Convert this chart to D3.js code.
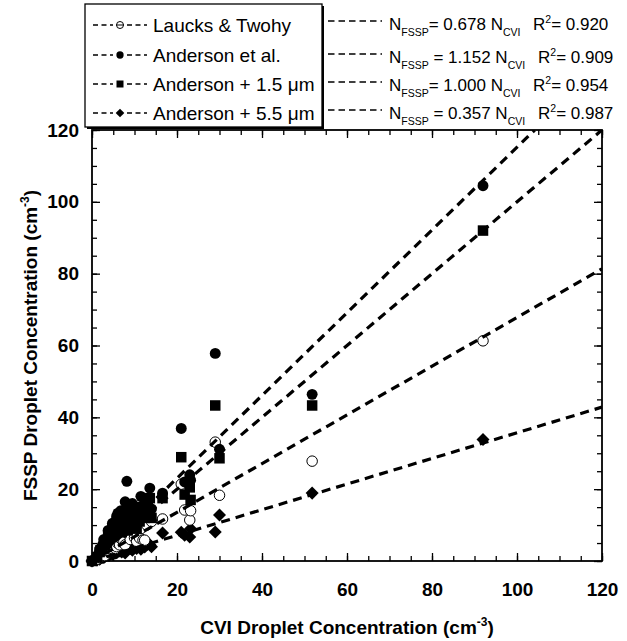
<!DOCTYPE html>
<html>
<head>
<meta charset="utf-8">
<script src="https://cdn.jsdelivr.net/npm/d3@7"></script>
<style>
  html, body { margin: 0; padding: 0; background: #fff; }
  svg { display: block; font-family: "Liberation Sans", Arial, Helvetica, sans-serif; }
</style>
</head>
<body>
<svg id="chart" width="627" height="641"></svg>
<script>
// ---------- data ----------
const cvi      = [0, 1.2, 1.8, 2.0, 2.5, 2.8, 3.0, 3.5, 3.8, 4.0, 4.2, 4.8, 5.0, 5.5, 5.8, 6.0, 6.1, 6.5, 6.8, 7.0, 7.5, 7.8, 8.2, 8.4, 9.0, 9.5, 10.0, 10.5, 11.2, 11.5, 12.0, 12.4, 12.9, 13.6, 14.0, 16.6, 21.0, 21.8, 23.0, 23.2, 29.0, 30.0, 51.8, 92.0];
const laucks   = [0, 0.5, 1.0, 1.5, 2.0, 2.5, 1.5, 3.0, 3.0, 2.5, 3.5, 5.0, 4.0, 3.5, 4.0, 5.0, 6.4, 4.5, 7.0, 6.0, 5.5, 4.5, 7.8, 7.8, 6.0, 8.5, 6.5, 5.5, 6.4, 9.0, 5.8, 5.8, 10.0, 12.0, 11.0, 11.7, 21.4, 14.2, 11.4, 14.0, 33.1, 18.3, 27.8, 61.3];
const anderson = [0, 1.5, 3.0, 3.5, 4.5, 6.0, 5.5, 6.0, 8.5, 7.0, 8.0, 10.5, 9.0, 10.0, 12.5, 11.0, 13.3, 12.0, 14.0, 9.5, 11.5, 16.5, 22.2, 10.0, 12.0, 16.0, 14.0, 11.0, 13.0, 18.0, 15.5, 14.5, 17.0, 20.3, 14.5, 18.9, 36.9, 22.0, 24.0, 22.5, 57.8, 31.1, 46.4, 104.5];
const and15    = [0, 1.0, 2.5, 3.0, 3.5, 5.0, 4.5, 5.0, 7.0, 6.0, 6.5, 9.0, 7.5, 8.5, 11.0, 9.5, 11.0, 10.0, 12.0, 8.0, 9.5, 13.5, 15.3, 8.5, 10.0, 13.5, 12.0, 9.0, 11.0, 15.0, 13.0, 12.0, 14.2, 17.5, 12.0, 17.5, 28.9, 18.5, 20.5, 17.0, 43.3, 28.6, 43.3, 92.0];
const and55    = [0, 0.3, 0.5, 0.8, 1.0, 1.0, 1.2, 1.5, 1.8, 1.5, 2.0, 1.8, 2.0, 2.2, 2.3, 2.5, 3.0, 2.8, 2.8, 2.5, 3.0, 2.2, 4.0, 3.5, 3.5, 3.0, 4.0, 3.5, 3.9, 3.3, 4.2, 3.9, 4.5, 4.5, 4.0, 7.8, 8.0, 7.2, 6.7, 9.0, 8.1, 12.8, 18.9, 33.8];

const seriesNames = ["Laucks & Twohy", "Anderson et al.", "Anderson + 1.5 \u03BCm", "Anderson + 5.5 \u03BCm"];
const seriesSymbols = ["openCircle", "circle", "square", "diamond"];
const slopes = [0.678, 1.152, 1.000, 0.357];
const slopeLabels = ["0.678", "1.152", "1.000", "0.357"];
const r2Labels = ["0.920", "0.909", "0.954", "0.987"];
const eqSpaced = [false, true, false, true];
const majorTicks = [0, 20, 40, 60, 80, 100, 120];
const minorTicks = d3.range(0, 121, 5);

// ---------- layout ----------
const svg = d3.select("#chart");
const X0 = 92, X1 = 602, Y0 = 561, Y1 = 130;
const x = d3.scaleLinear().domain([0, 120]).range([X0, X1]);
const y = d3.scaleLinear().domain([0, 120]).range([Y0, Y1]);

svg.append("defs").append("clipPath").attr("id", "plotclip")
  .append("rect").attr("x", X0).attr("y", Y1).attr("width", X1 - X0).attr("height", Y0 - Y1);

// ---------- axes (ticks inward on all sides) ----------
function addAxis(axisFn, transform, ticks, size) {
  const g = svg.append("g").attr("transform", transform)
    .call(axisFn.tickValues(ticks).tickSizeInner(size).tickSizeOuter(0).tickFormat(""));
  g.select(".domain").remove();
  g.selectAll("line").attr("stroke", "#000").attr("stroke-width", 1.3);
  return g;
}
addAxis(d3.axisBottom(x), `translate(0,${Y0})`, minorTicks, -5);
addAxis(d3.axisBottom(x), `translate(0,${Y0})`, majorTicks, -8);
addAxis(d3.axisTop(x), `translate(0,${Y1})`, minorTicks, -5);
addAxis(d3.axisTop(x), `translate(0,${Y1})`, majorTicks, -8);
addAxis(d3.axisLeft(y), `translate(${X0},0)`, minorTicks, -5);
addAxis(d3.axisLeft(y), `translate(${X0},0)`, majorTicks, -8);
addAxis(d3.axisRight(y), `translate(${X1},0)`, minorTicks, -5);
addAxis(d3.axisRight(y), `translate(${X1},0)`, majorTicks, -8);

const labX = svg.append("g").attr("transform", `translate(0,${Y0})`)
  .call(d3.axisBottom(x).tickValues(majorTicks).tickSize(0).tickPadding(22));
labX.select(".domain").remove();
labX.selectAll("text").attr("font-size", 19).attr("font-weight", "bold").attr("fill", "#000")
  .attr("font-family", "'Liberation Sans', Arial, sans-serif");
const labY = svg.append("g").attr("transform", `translate(${X0},0)`)
  .call(d3.axisLeft(y).tickValues(majorTicks).tickSize(0).tickPadding(13));
labY.select(".domain").remove();
labY.selectAll("text").attr("font-size", 19).attr("font-weight", "bold").attr("fill", "#000")
  .attr("font-family", "'Liberation Sans', Arial, sans-serif");

svg.append("rect").attr("x", X0).attr("y", Y1).attr("width", X1 - X0).attr("height", Y0 - Y1)
  .attr("fill", "none").attr("stroke", "#000").attr("stroke-width", 1.8);

// ---------- symbols ----------
function drawSymbol(sel, type, cx, cy, s) {
  if (type === "openCircle") {
    sel.append("circle").attr("cx", cx).attr("cy", cy).attr("r", s * 0.5)
      .attr("fill", "#fff").attr("stroke", "#000").attr("stroke-width", 1);
  } else if (type === "circle") {
    sel.append("circle").attr("cx", cx).attr("cy", cy).attr("r", s * 0.52).attr("fill", "#000");
  } else if (type === "square") {
    sel.append("rect").attr("x", cx - s / 2).attr("y", cy - s / 2).attr("width", s).attr("height", s).attr("fill", "#000");
  } else if (type === "diamond") {
    const h = s * 0.62;
    sel.append("path").attr("d", `M${cx},${cy - h}L${cx + h},${cy}L${cx},${cy + h}L${cx - h},${cy}Z`).attr("fill", "#000");
  }
}

const allSeries = [laucks, anderson, and15, and55];
const pointsG = svg.append("g");
// draw order: diamonds, open circles, squares, filled circles
[3, 0, 2, 1].forEach(si => {
  const g = pointsG.append("g");
  cvi.forEach((cx, i) => drawSymbol(g, seriesSymbols[si], x(cx), y(allSeries[si][i]), 10.5));
});

// fit lines
const plotG = svg.append("g").attr("clip-path", "url(#plotclip)");
const lineGen = d3.line().x(d => x(d[0])).y(d => y(d[1]));
slopes.forEach(m => {
  const xEnd = Math.min(120, 120 / m);
  plotG.append("path").attr("d", lineGen([[0, 0], [xEnd, m * xEnd]]))
    .attr("fill", "none").attr("stroke", "#000").attr("stroke-width", 3.2)
    .attr("stroke-dasharray", "9,6");
});

// ---------- legend ----------
const lg = svg.append("g");
const BX0 = 85, BY0 = 4, BX1 = 322, BY1 = 127;
lg.append("rect").attr("x", BX0 + 2).attr("y", BY0 + 2).attr("width", BX1 - BX0).attr("height", BY1 - BY0).attr("fill", "#000");
lg.append("rect").attr("x", BX0).attr("y", BY0).attr("width", BX1 - BX0).attr("height", BY1 - BY0)
  .attr("fill", "#fff").attr("stroke", "#000").attr("stroke-width", 1.3);

const rowBase = [32, 62, 91, 120];
seriesNames.forEach((name, i) => {
  const cy = rowBase[i] - 7;
  lg.append("line").attr("x1", 93).attr("x2", 147).attr("y1", cy).attr("y2", cy)
    .attr("stroke", "#000").attr("stroke-width", 1.6).attr("stroke-dasharray", "5,3.5");
  lg.append("rect").attr("x", 113).attr("y", cy - 5).attr("width", 14).attr("height", 10).attr("fill", "#fff");
  drawSymbol(lg, seriesSymbols[i], 120, cy, 7);
  if (seriesSymbols[i] === "openCircle") {
    lg.append("line").attr("x1", 116).attr("x2", 124).attr("y1", cy).attr("y2", cy).attr("stroke", "#000").attr("stroke-width", 1);
  }
  lg.append("text").attr("x", 153).attr("y", rowBase[i]).attr("font-size", 19).attr("fill", "#000").text(name);
});

const eqBase = [30, 63, 91, 119];
slopeLabels.forEach((s, i) => {
  const b = eqBase[i];
  lg.append("line").attr("x1", 328).attr("x2", 382).attr("y1", b - 9).attr("y2", b - 9)
    .attr("stroke", "#000").attr("stroke-width", 1.6).attr("stroke-dasharray", "6.5,4");
  const t = lg.append("text").attr("x", 389).attr("y", b).attr("font-size", 17).attr("fill", "#000");
  t.append("tspan").text("N");
  t.append("tspan").attr("font-size", 10.5).attr("dy", 6).text("FSSP");
  t.append("tspan").attr("dy", -6).text((eqSpaced[i] ? " = " : "= ") + s + " N");
  t.append("tspan").attr("font-size", 10.5).attr("dy", 6).text("CVI");
  const r = lg.append("text").attr("x", eqSpaced[i] ? 538 : 533).attr("y", b).attr("font-size", 17).attr("fill", "#000");
  r.append("tspan").text("R");
  r.append("tspan").attr("font-size", 10.5).attr("dy", -7).text("2");
  r.append("tspan").attr("dy", 7).text("= " + r2Labels[i]);
});

// ---------- axis titles ----------
const xt = svg.append("text").attr("x", (X0 + X1) / 2).attr("y", 634).attr("text-anchor", "middle")
  .attr("font-size", 19).attr("font-weight", "bold").attr("fill", "#000");
xt.append("tspan").text("CVI Droplet Concentration (cm");
xt.append("tspan").attr("font-size", 12).attr("dy", -8).text("-3");
xt.append("tspan").attr("dy", 8).text(")");

const yt = svg.append("text").attr("transform", `translate(37,${(Y0 + Y1) / 2}) rotate(-90)`).attr("text-anchor", "middle")
  .attr("font-size", 19).attr("font-weight", "bold").attr("fill", "#000");
yt.append("tspan").text("FSSP Droplet Concentration (cm");
yt.append("tspan").attr("font-size", 12).attr("dy", -8).text("-3");
yt.append("tspan").attr("dy", 8).text(")");
</script>
</body>
</html>
